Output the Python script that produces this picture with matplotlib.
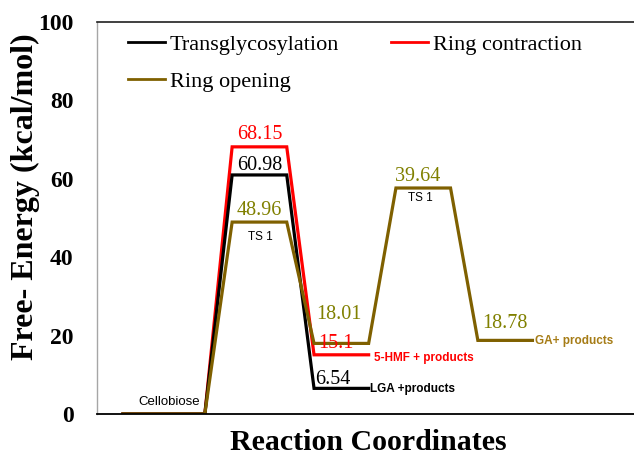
import matplotlib
matplotlib.use('Agg')
import matplotlib.pyplot as plt

# energy profile data (kcal/mol)
x_short = [0, 3, 4, 6, 7, 9]
x_long = [0, 3, 4, 6, 7, 9, 10, 12, 13, 15]
transgly = [0, 0, 60.98, 60.98, 6.54, 6.54]
ring_contr = [0, 0, 68.15, 68.15, 15.1, 15.1]
ring_open = [0, 0, 48.96, 48.96, 18.01, 18.01, 57.65, 57.65, 18.78, 18.78]

yticks = [0, 20, 40, 60, 80, 100]

serif = 'Liberation Serif'
sans = 'Liberation Sans'
red = '#FF0000'
olive_line = '#7F6000'
olive_txt = '#808000'
gold_txt = '#A67C16'

fig = plt.figure(figsize=(6.34, 4.55), dpi=100)
ax = fig.add_axes([97 / 634, 41 / 455, 1 - 97 / 634, 392 / 455])

l_r, = ax.plot(x_short, ring_contr, color=red, lw=2.3, label='Ring contraction', solid_joinstyle='miter')
l_t, = ax.plot(x_short, transgly, color='black', lw=2.3, label='Transglycosylation', solid_joinstyle='miter')
l_o, = ax.plot(x_long, ring_open, color=olive_line, lw=2.3, label='Ring opening', solid_joinstyle='miter')

ax.set_xlim(-0.95, 18.72)
ax.set_ylim(0, 100)
ax.set_xticks([])
ax.set_yticks(yticks)
ax.set_yticklabels([str(v) for v in yticks], fontfamily=serif, fontweight='bold', fontsize=17)
ax.tick_params(axis='y', length=0, pad=17)

ax.spines['right'].set_visible(False)
ax.spines['left'].set_color('#A6A6A6')
ax.spines['left'].set_linewidth(1.0)
ax.spines['bottom'].set_color('black')
ax.spines['bottom'].set_linewidth(1.3)
ax.spines['top'].set_color('#202020')
ax.spines['top'].set_linewidth(1.2)

# energy values
num = dict(fontfamily=serif, fontsize=14.5, ha='center', va='center')
ax.text(5, 71.2, '68.15', color=red, **num)
ax.text(5, 63.3, '60.98', color='black', **num)
ax.text(5, 52.0, '48.96', color=olive_txt, **num)
ax.text(10.8, 60.7, '39.64', color=olive_txt, **num)
ax.text(7.9, 25.3, '18.01', color=olive_txt, **num)
ax.text(7.8, 18.1, '15.1', color=red, **num)
ax.text(7.7, 8.9, '6.54', color='black', **num)
ax.text(14.0, 23.2, '18.78', color=olive_txt, **num)

# species labels
lab = dict(fontfamily=sans, fontsize=8.5, va='center')
ax.text(5.05, 45.2, 'TS 1', ha='center', **lab)
ax.text(10.9, 55.1, 'TS 1', ha='center', **lab)
ax.text(1.7, 3.1, 'Cellobiose', ha='center', fontfamily=sans, fontsize=9.5, va='center')
ax.text(9.2, 14.3, '5-HMF + products', ha='left', color=red, fontweight='bold', **lab)
ax.text(9.05, 6.4, 'LGA +products', ha='left', color='black', fontweight='bold', **lab)
ax.text(15.1, 18.6, 'GA+ products', ha='left', color=gold_txt, fontweight='bold', **lab)

leg = ax.legend(handles=[l_t, l_o, l_r], ncol=2, frameon=False,
                prop={'family': serif, 'size': 16},
                loc='upper left', bbox_to_anchor=(128 / 634, 1 - 34 / 455),
                bbox_transform=fig.transFigure, borderpad=0, borderaxespad=0,
                handlelength=1.67, handletextpad=0.2, columnspacing=2.35,
                labelspacing=0.77)
for h in leg.legend_handles:
    h.set_linewidth(2.0)

fig.text(368 / 634, 1 - 443 / 455, 'Reaction Coordinates', fontfamily=serif,
         fontweight='bold', fontsize=21.5, ha='center', va='center')
fig.text(25 / 634, 1 - 197 / 455, 'Free- Energy (kcal/mol)', fontfamily=serif,
         fontweight='bold', fontsize=23, ha='center', va='center', rotation=90)

fig.savefig('out.png', dpi=100)
